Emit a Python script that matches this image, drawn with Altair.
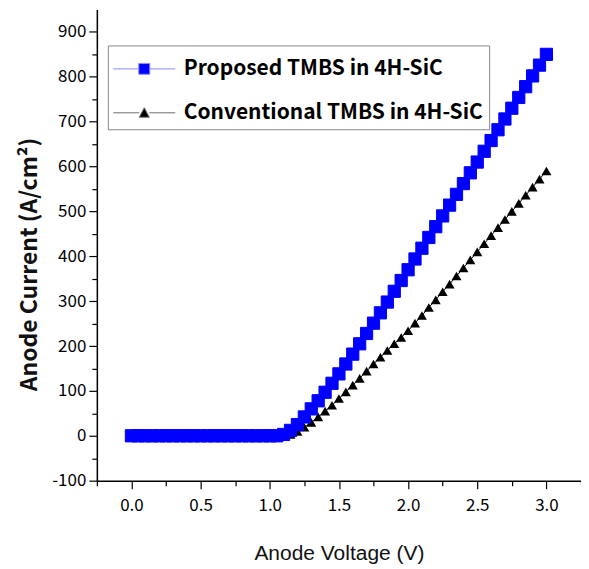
import altair as alt
import pandas as pd

# ---- data ----
voltage = [0.00, 0.05, 0.10, 0.15, 0.20, 0.25, 0.30, 0.35, 0.40, 0.45,
           0.50, 0.55, 0.60, 0.65, 0.70, 0.75, 0.80, 0.85, 0.90, 0.95,
           1.00, 1.05, 1.10, 1.15, 1.20, 1.25, 1.30, 1.35, 1.40, 1.45,
           1.50, 1.55, 1.60, 1.65, 1.70, 1.75, 1.80, 1.85, 1.90, 1.95,
           2.00, 2.05, 2.10, 2.15, 2.20, 2.25, 2.30, 2.35, 2.40, 2.45,
           2.50, 2.55, 2.60, 2.65, 2.70, 2.75, 2.80, 2.85, 2.90, 2.95,
           3.00]

proposed = [0, 0, 0, 0, 0, 0, 0, 0, 0, 0,
            0, 0, 0, 0, 0, 0, 0, 0, 0, 0,
            0, 0, 3, 12, 25, 42, 60, 78, 97, 117,
            138, 160, 182, 205, 228, 251, 274, 298, 322, 346,
            370, 394, 418, 442, 466, 490, 514, 538, 562, 586,
            610, 634, 658, 682, 706, 730, 754, 778, 802, 826,
            850]

conventional = [0, 0, 0, 0, 0, 0, 0, 0, 0, 0,
                0, 0, 0, 0, 0, 0, 0, 0, 0, 0,
                0, 0, 0, 3, 10, 19, 30, 42, 55, 68,
                83, 98, 113, 128, 144, 160, 175, 190, 205, 219,
                234, 251, 268, 286, 303, 321, 338, 356, 374, 392,
                410, 428, 446, 464, 482, 500, 518, 536, 554, 572,
                590]

series_names = ["Proposed TMBS in 4H-SiC", "Conventional TMBS in 4H-SiC"]
series_colors = ["#0000ff", "#000000"]
legend_line_colors = ["#8c8cff", "#6e6e6e"]

x_major = [0.0, 0.5, 1.0, 1.5, 2.0, 2.5, 3.0]
x_minor = [-0.25, 0.25, 0.75, 1.25, 1.75, 2.25, 2.75, 3.25]
y_major = [-100, 0, 100, 200, 300, 400, 500, 600, 700, 800, 900]
y_minor = [-50, 50, 150, 250, 350, 450, 550, 650, 750, 850]

x_domain = [-0.25, 3.25]
y_domain = [-100, 950]

# ---- tables ----
df_prop = pd.DataFrame({"V": voltage, "I": proposed, "series": series_names[0]})
df_conv = pd.DataFrame({"V": voltage, "I": conventional, "series": series_names[1]})
df_all = pd.concat([df_conv, df_prop], ignore_index=True)

TICK_FONT = "Noto Sans CJK KR"

xscale = alt.Scale(domain=x_domain, nice=False, zero=False)
yscale = alt.Scale(domain=y_domain, nice=False, zero=False)
cscale = alt.Scale(domain=series_names, range=series_colors)

# legend symbols: a thin line with the marker in the middle
sq_path = "M-1.06,0H0.44M1.09,0H2.59M0.44,-0.32H1.09V0.32H0.44Z"
tri_path = "M-1.06,0H0.47M1.06,0H2.59M0.47,0.26L0.765,-0.3L1.06,0.26Z"

minor_x_axis = alt.Axis(values=x_minor, labels=False, tickSize=5, tickWidth=1.2,
                        tickColor="black", domain=False, grid=False, title=None,
                        orient="bottom")
minor_y_axis = alt.Axis(values=y_minor, labels=False, tickSize=5, tickWidth=1.2,
                        tickColor="black", domain=False, grid=False, title=None,
                        orient="left")

lines = alt.Chart(df_all).mark_line(strokeWidth=1).encode(
    x=alt.X("V:Q", scale=xscale, axis=minor_x_axis),
    y=alt.Y("I:Q", scale=yscale, axis=minor_y_axis),
    color=alt.Color("series:N", scale=cscale, legend=None),
    detail="series:N",
)

major_x_axis = alt.Axis(values=x_major, format=".1f", tickSize=8, tickWidth=1.2,
                        tickColor="black", domainColor="black", domainWidth=1.5,
                        grid=False, labelFont=TICK_FONT, labelFontSize=17,
                        labelColor="black", labelBaseline="alphabetic",
                        labelPadding=22, title="Anode Voltage (V)",
                        titleFont="Liberation Sans", titleFontSize=21,
                        titleFontWeight="normal", titleColor="#111",
                        titleBaseline="alphabetic", titleY=79, orient="bottom")
major_y_axis = alt.Axis(values=y_major, tickSize=8, tickWidth=1.2,
                        labelExpr="datum.value < 0 ? '-' + abs(datum.value) : '' + datum.value",
                        tickColor="black", domainColor="black", domainWidth=1.5,
                        grid=False, labelFont=TICK_FONT, labelFontSize=17,
                        labelColor="black", labelPadding=3,
                        title="Anode Current (A/cm²)", titleFont=TICK_FONT,
                        titleFontSize=23, titleFontWeight="bold", titleColor="#111",
                        titleAngle=270, titleBaseline="alphabetic",
                        titleX=-60, titleY=255, orient="left")

conv_points = alt.Chart(df_conv).mark_point(
    shape="triangle-up", filled=True, size=100, color="#000000", opacity=1
).encode(
    x=alt.X("V:Q", scale=xscale, axis=None),
    y=alt.Y("I:Q", scale=yscale, axis=None),
)

prop_points = alt.Chart(df_prop).mark_point(
    shape="square", filled=True, size=150, color="#0000ff", opacity=1,
    stroke="#0000ff", strokeWidth=1
).encode(
    x=alt.X("V:Q", scale=xscale, axis=major_x_axis),
    y=alt.Y("I:Q", scale=yscale, axis=major_y_axis),
)

legend_props = dict(
    title=None, orient="none", legendX=11, legendY=36,
    padding=6, rowPadding=16, symbolSize=1156,
    symbolStrokeWidth=1, labelOffset=35, labelLimit=500,
    labelFont=TICK_FONT, labelFontSize=21, labelFontWeight="bold",
    labelColor="black", strokeColor="#888", fillColor="white",
    cornerRadius=0,
)

legend_layer = alt.Chart(df_all).transform_filter("false").mark_point(
    filled=True, size=1156, opacity=1
).encode(
    fill=alt.Fill("series:N", scale=alt.Scale(domain=series_names, range=series_colors),
                  legend=alt.Legend(**legend_props)),
    stroke=alt.Stroke("series:N",
                      scale=alt.Scale(domain=series_names, range=legend_line_colors),
                      legend=alt.Legend(**legend_props)),
    shape=alt.Shape("series:N",
                    scale=alt.Scale(domain=series_names, range=[sq_path, tri_path]),
                    legend=alt.Legend(**legend_props)),
)

chart = alt.layer(lines, conv_points, prop_points, legend_layer).resolve_axis(
    x="independent", y="independent"
).resolve_scale(
    fill="independent", stroke="independent", shape="independent"
).resolve_legend(
    fill="independent", stroke="independent", shape="independent"
).properties(
    width=485, height=472,
    autosize=alt.AutoSizeParams(type="none"),
    padding={"left": 89, "top": 1, "right": 0, "bottom": 92},
    background="white",
).configure_view(stroke=None)

chart.save("out.html", embed_options={"renderer": "svg", "actions": False})
